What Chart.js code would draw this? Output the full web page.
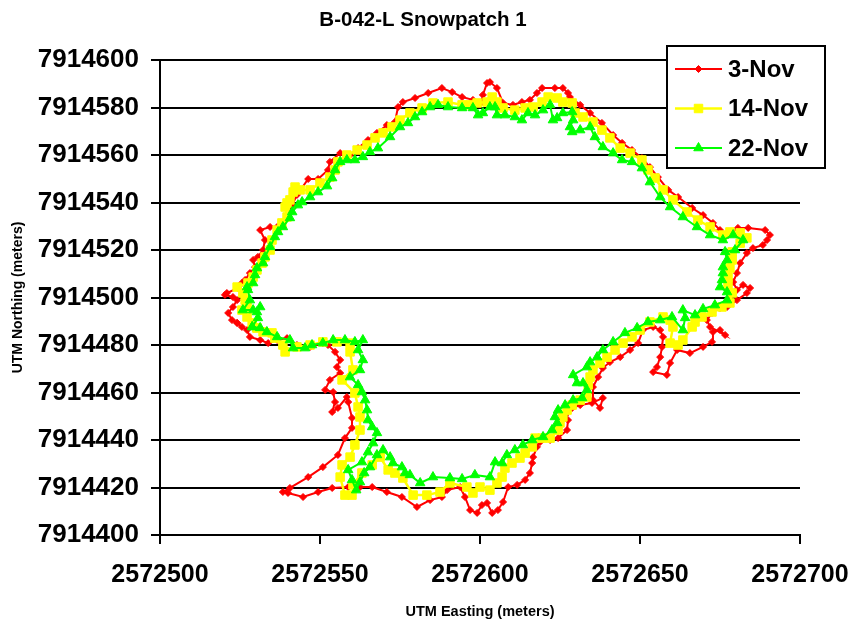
<!DOCTYPE html>
<html>
<head>
<meta charset="utf-8">
<script src="https://cdn.jsdelivr.net/npm/chart.js@4/dist/chart.umd.min.js"></script>
<style>
html,body{margin:0;padding:0;background:#fff;}
canvas{display:block;}
</style>
</head>
<body>
<canvas id="c" width="848" height="621"></canvas>
<script>
const chartTitle = 'B-042-L Snowpatch 1';
const xAxisTitle = 'UTM Easting (meters)';
const yAxisTitle = 'UTM Northing (meters)';
const seriesLabels = ['3-Nov', '14-Nov', '22-Nov'];
const xTickValues = [2572500, 2572550, 2572600, 2572650, 2572700];
const yTickValues = [7914400, 7914420, 7914440, 7914460, 7914480, 7914500, 7914520, 7914540, 7914560, 7914580, 7914600];

const nov3East = [2572524.1,2572525.6,2572527.2,2572528.1,2572531.3,2572533.8,2572536.6,2572539.7,2572542.8,2572546.9,
2572550.9,2572552.5,2572554.7,2572556.3,2572555.3,2572556.3,2572553.1,2572551.6,2572554.1,2572554.7,
2572553.8,2572555.6,2572558.4,2572558.8,2572560.0,2572560.0,2572557.8,2572555.6,2572550.9,2572546.3,
2572540.6,2572538.4,2572540.0,2572544.7,2572549.4,2572553.8,2572558.8,2572562.5,2572566.3,2572570.9,
2572575.6,2572580.3,2572584.4,2572588.1,2572589.7,2572593.8,2572595.3,2572596.9,2572599.1,2572600.6,
2572602.2,2572603.8,2572605.6,2572607.2,2572608.8,2572611.6,2572614.1,2572615.6,2572616.3,2572616.6,
2572617.8,2572618.8,2572621.9,2572624.4,2572627.2,2572627.5,2572626.6,2572628.8,2572631.3,2572635.0,
2572638.4,2572637.5,2572635.3,2572635.3,2572636.9,2572638.4,2572640.6,2572643.8,2572646.9,2572649.4,
2572650.9,2572654.1,2572656.3,2572657.2,2572656.9,2572656.3,2572655.3,2572654.1,2572658.4,2572659.4,
2572661.6,2572665.6,2572669.7,2572672.5,2572672.8,2572675.0,2572676.6,2572671.9,2572670.9,2572672.5,
2572675.0,2572677.2,2572680.3,2572683.4,2572684.4,2572682.2,2572680.3,2572679.1,2572680.3,2572681.3,
2572683.4,2572685.3,2572688.4,2572689.7,2572690.6,2572689.1,2572683.8,2572680.6,2572677.5,2572675.0,
2572672.8,2572669.7,2572666.3,2572661.9,2572658.8,2572655.6,2572653.1,2572650.6,2572647.5,2572644.4,
2572641.6,2572638.1,2572634.4,2572631.3,2572628.1,2572627.5,2572625.9,2572623.4,2572619.4,2572617.8,
2572615.6,2572613.1,2572610.3,2572607.2,2572605.3,2572603.1,2572602.2,2572600.9,2572600.6,2572597.8,
2572594.4,2572591.3,2572588.1,2572583.8,2572579.7,2572575.9,2572574.4,2572573.4,2572570.9,2572567.8,
2572565.0,2572561.9,2572559.4,2572556.3,2572553.1,2572552.5,2572549.4,2572546.3,2572542.8,2572541.3,
2572539.7,2572536.6,2572534.4,2572531.3,2572532.8,2572532.2,2572530.6,2572529.1,2572529.7,2572528.1,
2572526.6,2572525.6,2572524.4,2572520.9,2572520.3,2572522.8,2572524.1,2572522.8,2572521.3,2572522.5,
2572524.1];
const nov3North = [7914489.3,7914487.6,7914486.3,7914483.4,7914482.1,7914480.8,7914482.1,7914482.9,7914480.0,7914479.2,
7914480.8,7914480.0,7914477.1,7914473.7,7914470.7,7914468.2,7914465.3,7914461.1,7914460.2,7914456.0,
7914451.8,7914453.5,7914458.1,7914456.0,7914449.3,7914445.1,7914440.8,7914433.7,7914428.6,7914424.4,
7914419.8,7914418.1,7914417.7,7914416.0,7914418.1,7914419.8,7914420.2,7914420.2,7914420.2,7914418.1,
7914416.0,7914411.8,7914414.7,7914416.0,7914418.9,7914420.2,7914416.0,7914410.5,7914409.3,7914412.6,
7914413.5,7914409.3,7914410.5,7914413.9,7914420.2,7914421.1,7914423.2,7914426.1,7914430.3,7914432.8,
7914437.1,7914439.2,7914440.0,7914440.8,7914444.2,7914448.4,7914450.5,7914453.5,7914454.7,7914455.6,
7914457.7,7914453.5,7914456.8,7914462.3,7914466.5,7914470.3,7914472.8,7914474.9,7914477.9,7914480.8,
7914486.3,7914487.6,7914486.3,7914483.4,7914479.2,7914474.9,7914470.7,7914468.6,7914467.4,7914472.4,
7914477.9,7914476.6,7914479.2,7914481.3,7914485.5,7914486.3,7914484.2,7914487.6,7914490.5,7914493.5,
7914495.6,7914496.0,7914498.9,7914501.9,7914504.0,7914505.3,7914503.2,7914506.5,7914510.3,7914514.5,
7914518.7,7914520.8,7914522.1,7914524.2,7914526.3,7914528.4,7914529.3,7914529.3,7914526.3,7914528.4,
7914531.4,7914534.7,7914537.7,7914542.3,7914545.3,7914550.7,7914554.9,7914558.7,7914562.1,7914565.1,
7914568.4,7914573.5,7914577.7,7914581.1,7914584.4,7914586.1,7914588.2,7914588.2,7914588.2,7914586.1,
7914583.2,7914582.3,7914581.1,7914581.9,7914588.2,7914590.7,7914590.3,7914585.3,7914582.3,7914583.2,
7914584.4,7914586.5,7914588.2,7914586.1,7914584.0,7914582.3,7914580.2,7914573.9,7914572.6,7914569.3,
7914566.3,7914562.9,7914560.0,7914560.8,7914557.1,7914553.7,7914549.9,7914549.9,7914543.2,7914538.9,
7914533.9,7914529.7,7914529.7,7914528.4,7914524.2,7914520.0,7914517.1,7914515.8,7914512.8,7914510.3,
7914507.4,7914506.1,7914504.0,7914501.9,7914501.1,7914500.2,7914498.9,7914496.0,7914493.5,7914490.5,
7914489.3];

const nov14East = [2572530.3,2572532.2,2572535.0,2572535.9,2572538.4,2572539.1,2572542.8,2572546.9,2572550.9,2572555.3,
2572559.4,2572559.4,2572560.3,2572556.9,2572560.9,2572561.9,2572562.5,2572562.5,2572560.9,2572559.4,
2572556.9,2572556.3,2572557.8,2572560.0,2572560.3,2572563.1,2572566.3,2572568.8,2572571.3,2572573.4,
2572575.9,2572579.1,2572583.4,2572587.5,2572590.6,2572595.9,2572597.8,2572600.0,2572603.1,2572605.3,
2572606.9,2572607.8,2572610.0,2572612.5,2572614.1,2572616.3,2572617.2,2572619.4,2572621.9,2572624.4,
2572625.0,2572625.9,2572627.2,2572628.8,2572631.3,2572633.4,2572633.8,2572634.4,2572635.3,2572637.5,
2572639.7,2572642.2,2572644.7,2572647.5,2572650.0,2572653.1,2572657.2,2572659.4,2572660.3,2572659.4,
2572661.9,2572663.4,2572666.3,2572667.2,2572669.4,2572672.5,2572675.6,2572678.1,2572678.8,2572677.5,
2572677.5,2572678.1,2572678.8,2572678.8,2572681.3,2572683.4,2572681.3,2572678.1,2572675.9,2572671.9,
2572668.1,2572664.7,2572660.3,2572657.2,2572654.7,2572652.5,2572650.6,2572646.9,2572643.8,2572640.6,
2572638.1,2572635.3,2572632.2,2572629.7,2572628.8,2572625.9,2572624.1,2572621.3,2572619.4,2572616.6,
2572614.1,2572610.9,2572607.2,2572605.3,2572603.8,2572602.2,2572599.1,2572596.9,2572594.4,2572590.0,
2572585.3,2572581.9,2572578.1,2572575.0,2572572.5,2572569.7,2572567.2,2572564.7,2572561.6,2572558.4,
2572555.6,2572554.7,2572553.1,2572550.0,2572546.9,2572543.8,2572542.2,2572541.6,2572540.6,2572539.7,
2572539.1,2572539.7,2572538.1,2572536.6,2572535.0,2572534.4,2572532.8,2572531.9,2572530.3,2572529.1,
2572527.5,2572524.1,2572525.9,2572526.6,2572527.2,2572525.6,2572527.2,2572528.8,2572530.3];
const nov14North = [7914487.2,7914485.5,7914485.1,7914482.9,7914480.0,7914477.1,7914479.2,7914480.0,7914481.3,7914481.3,
7914480.8,7914477.1,7914469.5,7914465.3,7914459.8,7914453.9,7914449.7,7914444.2,7914437.9,7914432.8,
7914429.5,7914424.4,7914416.8,7914416.8,7914421.1,7914426.1,7914429.5,7914432.8,7914427.4,7914426.1,
7914424.0,7914416.8,7914416.8,7914418.1,7914421.9,7914420.2,7914417.7,7914420.2,7914418.9,7914421.9,
7914424.4,7914428.2,7914430.3,7914432.4,7914434.5,7914437.1,7914440.8,7914440.8,7914440.8,7914444.2,
7914447.2,7914449.7,7914452.6,7914454.7,7914456.8,7914458.1,7914463.2,7914466.5,7914469.5,7914472.4,
7914474.9,7914477.9,7914480.8,7914483.4,7914486.3,7914489.7,7914491.8,7914490.5,7914487.6,7914480.8,
7914480.0,7914482.1,7914487.6,7914489.7,7914491.8,7914493.9,7914496.0,7914497.7,7914501.9,7914505.3,
7914508.6,7914512.4,7914515.8,7914519.2,7914522.9,7914525.1,7914527.2,7914527.6,7914526.3,7914529.7,
7914532.6,7914536.0,7914541.1,7914545.3,7914550.3,7914553.7,7914557.9,7914560.8,7914562.9,7914567.2,
7914570.5,7914573.9,7914576.0,7914577.7,7914581.9,7914582.3,7914584.0,7914584.4,7914582.3,7914580.2,
7914579.8,7914578.9,7914579.8,7914582.3,7914584.4,7914582.3,7914581.9,7914581.1,7914581.1,7914582.3,
7914581.9,7914579.8,7914577.7,7914574.7,7914571.8,7914569.3,7914567.2,7914564.2,7914562.1,7914560.0,
7914557.1,7914553.7,7914550.7,7914548.2,7914545.3,7914545.3,7914546.5,7914544.4,7914541.1,7914539.8,
7914538.1,7914533.9,7914531.4,7914528.4,7914524.2,7914520.0,7914517.1,7914514.5,7914511.6,7914508.6,
7914506.1,7914504.4,7914501.9,7914498.9,7914496.0,7914494.7,7914491.8,7914489.3,7914487.2];

const nov22East = [2572528.8,2572531.3,2572533.4,2572536.6,2572540.6,2572541.6,2572545.3,2572547.5,2572550.9,2572554.1,
2572557.8,2572560.9,2572563.4,2572561.9,2572563.4,2572562.5,2572559.4,2572561.9,2572563.1,2572564.1,
2572564.7,2572565.0,2572566.3,2572567.8,2572566.6,2572565.0,2572563.1,2572558.8,2572560.0,2572561.3,
2572562.5,2572563.8,2572565.6,2572567.8,2572569.7,2572571.9,2572572.8,2572575.6,2572576.6,2572578.1,
2572581.3,2572585.3,2572590.6,2572594.4,2572598.4,2572603.1,2572604.7,2572606.9,2572608.4,2572610.9,
2572613.4,2572616.3,2572619.7,2572622.5,2572624.1,2572623.4,2572624.4,2572626.6,2572629.1,2572631.9,
2572633.4,2572632.2,2572630.3,2572629.1,2572633.4,2572634.4,2572636.6,2572638.4,2572641.6,2572645.3,
2572649.1,2572652.5,2572656.3,2572660.0,2572663.4,2572664.1,2572663.4,2572667.2,2572669.7,2572673.4,
2572677.2,2572677.2,2572675.0,2572675.6,2572675.9,2572675.9,2572677.2,2572676.6,2572679.7,2572682.2,
2572679.1,2572675.9,2572671.9,2572667.8,2572663.4,2572659.4,2572656.3,2572653.1,2572650.6,2572647.5,
2572644.4,2572641.6,2572638.4,2572635.9,2572634.4,2572631.3,2572628.8,2572628.1,2572629.1,2572628.8,
2572625.9,2572624.1,2572622.8,2572621.9,2572619.7,2572617.2,2572615.0,2572613.1,2572610.9,2572607.8,
2572605.3,2572604.7,2572603.1,2572600.9,2572599.4,2572597.8,2572594.4,2572590.0,2572586.9,2572584.4,
2572581.9,2572579.7,2572577.5,2572575.0,2572571.9,2572568.1,2572565.6,2572563.4,2572560.9,2572558.4,
2572556.3,2572554.7,2572553.8,2572552.2,2572549.4,2572546.9,2572544.4,2572543.1,2572541.3,2572540.6,
2572538.4,2572536.9,2572535.9,2572534.4,2572532.8,2572532.2,2572530.3,2572529.7,2572529.1,2572527.2,
2572527.5,2572528.1,2572525.9,2572529.1,2572531.3,2572530.3,2572530.6,2572528.8];
const nov22North = [7914487.6,7914487.2,7914485.5,7914483.4,7914482.1,7914478.7,7914478.7,7914480.0,7914480.8,7914482.1,
7914482.1,7914481.3,7914482.1,7914477.9,7914473.7,7914469.5,7914466.5,7914463.2,7914460.2,7914456.8,
7914452.6,7914448.4,7914445.5,7914443.0,7914438.7,7914434.9,7914430.7,7914427.4,7914423.2,7914418.9,
7914422.3,7914426.1,7914428.6,7914433.7,7914435.8,7914432.8,7914430.3,7914428.6,7914426.1,7914425.3,
7914421.9,7914424.4,7914424.0,7914423.6,7914425.3,7914424.4,7914430.7,7914430.3,7914433.7,7914435.8,
7914437.9,7914440.0,7914441.3,7914444.2,7914447.2,7914449.7,7914452.6,7914454.7,7914456.8,7914457.7,
7914461.1,7914464.0,7914464.0,7914467.4,7914470.7,7914472.8,7914474.9,7914477.9,7914481.3,7914485.1,
7914487.2,7914489.7,7914490.5,7914491.8,7914486.3,7914491.4,7914494.7,7914492.6,7914495.2,7914496.8,
7914498.9,7914502.3,7914504.4,7914507.4,7914510.3,7914512.8,7914515.8,7914519.2,7914520.0,7914524.2,
7914526.3,7914524.2,7914526.3,7914529.7,7914533.9,7914538.1,7914542.3,7914548.6,7914554.5,7914557.1,
7914557.9,7914560.8,7914563.4,7914567.6,7914571.8,7914570.5,7914569.7,7914571.8,7914574.7,7914578.1,
7914577.7,7914575.6,7914574.7,7914581.1,7914578.9,7914576.8,7914577.7,7914574.7,7914576.0,7914576.8,
7914576.8,7914580.2,7914580.2,7914577.7,7914576.8,7914579.8,7914579.8,7914580.2,7914581.1,7914580.2,
7914578.1,7914576.0,7914573.5,7914571.8,7914567.6,7914562.9,7914561.3,7914559.2,7914557.9,7914557.9,
7914557.1,7914553.7,7914550.3,7914546.9,7914544.4,7914542.3,7914540.2,7914538.9,7914536.0,7914533.5,
7914529.7,7914527.6,7914525.5,7914521.3,7914517.1,7914514.5,7914512.4,7914509.5,7914506.1,7914504.4,
7914503.2,7914498.9,7914494.7,7914494.7,7914496.0,7914493.9,7914491.4,7914487.6];

const FONT = '"Liberation Sans", Arial, Helvetica, sans-serif';
function toPoints(xs, ys) { return xs.map((x, i) => ({ x: x, y: ys[i] })); }

function drawMarker(ctx, style, x, y, r, color) {
  ctx.save();
  ctx.fillStyle = color; ctx.strokeStyle = color; ctx.lineWidth = 1;
  ctx.beginPath();
  if (style === 'rectRot') {
    ctx.moveTo(x - r, y); ctx.lineTo(x, y - r); ctx.lineTo(x + r, y); ctx.lineTo(x, y + r);
  } else if (style === 'rect') {
    const s = Math.SQRT1_2 * r; ctx.rect(x - s, y - s, 2 * s, 2 * s);
  } else {
    ctx.moveTo(x, y - r);
    ctx.lineTo(x + Math.sin(2 * Math.PI / 3) * r, y - Math.cos(2 * Math.PI / 3) * r);
    ctx.lineTo(x + Math.sin(4 * Math.PI / 3) * r, y - Math.cos(4 * Math.PI / 3) * r);
  }
  ctx.closePath(); ctx.fill(); ctx.stroke();
  ctx.restore();
}

const titleAndLegend = {
  id: 'titleAndLegend',
  afterDraw(chart) {
    const ctx = chart.ctx;
    ctx.save();
    ctx.fillStyle = '#000000';
    ctx.font = 'bold 20.5px ' + FONT;
    ctx.textAlign = 'center'; ctx.textBaseline = 'alphabetic';
    ctx.fillText(chartTitle, 423, 26);
    const bx = 667, by = 46, bw = 158, bh = 122;
    ctx.fillStyle = '#ffffff'; ctx.fillRect(bx, by, bw, bh);
    ctx.strokeStyle = '#000000'; ctx.lineWidth = 2; ctx.strokeRect(bx, by, bw, bh);
    chart.data.datasets.forEach((ds, i) => {
      const y = 69 + i * 39.5;
      ctx.strokeStyle = ds.borderColor; ctx.lineWidth = ds.borderWidth;
      ctx.beginPath(); ctx.moveTo(675, y); ctx.lineTo(722, y); ctx.stroke();
      drawMarker(ctx, ds.pointStyle, 698.5, y, ds.pointRadius, ds.borderColor);
      ctx.fillStyle = '#000000';
      ctx.font = 'bold 24px ' + FONT;
      ctx.textAlign = 'left'; ctx.textBaseline = 'middle';
      ctx.fillText(ds.label, 728, y + 1);
    });
    ctx.restore();
  }
};

const xTickFont = { family: FONT, size: 25, weight: 'bold' };
const yTickFont = { family: FONT, size: 26, weight: 'bold' };

new Chart(document.getElementById('c'), {
  type: 'scatter',
  data: {
    datasets: [
      { label: seriesLabels[0], data: toPoints(nov3East, nov3North), showLine: true,
        borderColor: '#FF0000', backgroundColor: '#FF0000', pointBackgroundColor: '#FF0000', pointBorderColor: '#FF0000',
        borderWidth: 2, pointStyle: 'rectRot', pointRadius: 3.5, pointBorderWidth: 1, tension: 0, order: 3 },
      { label: seriesLabels[1], data: toPoints(nov14East, nov14North), showLine: true,
        borderColor: '#FFFF00', backgroundColor: '#FFFF00', pointBackgroundColor: '#FFFF00', pointBorderColor: '#FFFF00',
        borderWidth: 2.5, pointStyle: 'rect', pointRadius: 6, pointBorderWidth: 1, tension: 0, order: 2 },
      { label: seriesLabels[2], data: toPoints(nov22East, nov22North), showLine: true,
        borderColor: '#00FF00', backgroundColor: '#00FF00', pointBackgroundColor: '#00FF00', pointBorderColor: '#00FF00',
        borderWidth: 2, pointStyle: 'triangle', pointRadius: 5.5, pointBorderWidth: 1, tension: 0, order: 1 }
    ]
  },
  options: {
    responsive: false,
    animation: false,
    events: [],
    layout: { padding: { top: 60, right: 48, bottom: 0, left: 0 } },
    plugins: {
      legend: { display: false },
      tooltip: { enabled: false },
      title: { display: false }
    },
    scales: {
      x: {
        type: 'linear', min: xTickValues[0], max: xTickValues[xTickValues.length - 1],
        afterBuildTicks: (s) => { s.ticks = xTickValues.map(v => ({ value: v })); },
        ticks: { color: '#000', font: xTickFont, padding: 16, maxRotation: 0, autoSkip: false, callback: (v) => String(v) },
        grid: { drawOnChartArea: false, drawTicks: true, tickLength: 9, color: '#000', lineWidth: 2 },
        border: { display: true, color: '#000', width: 2 },
        title: { display: true, text: xAxisTitle, color: '#000', font: { family: FONT, size: 14.5, weight: 'bold' }, padding: { top: 0, bottom: 0 } },
        afterFit: (s) => { s.height = 86; s.paddingLeft = 0; s.paddingRight = 0; }
      },
      y: {
        type: 'linear', min: yTickValues[0], max: yTickValues[yTickValues.length - 1],
        afterBuildTicks: (s) => { s.ticks = yTickValues.map(v => ({ value: v })); },
        ticks: { color: '#000', font: yTickFont, padding: 12, autoSkip: false, callback: (v) => String(v) },
        grid: { drawOnChartArea: true, drawTicks: true, tickLength: 9, color: '#000', lineWidth: 2 },
        border: { display: true, color: '#000', width: 2 },
        title: { display: true, text: yAxisTitle, color: '#000', font: { family: FONT, size: 14, weight: 'bold' }, padding: { top: 10, bottom: 0 } },
        afterFit: (s) => { s.width = 160; s.paddingTop = 0; s.paddingBottom = 0; }
      }
    }
  },
  plugins: [titleAndLegend]
});
</script>
</body>
</html>
